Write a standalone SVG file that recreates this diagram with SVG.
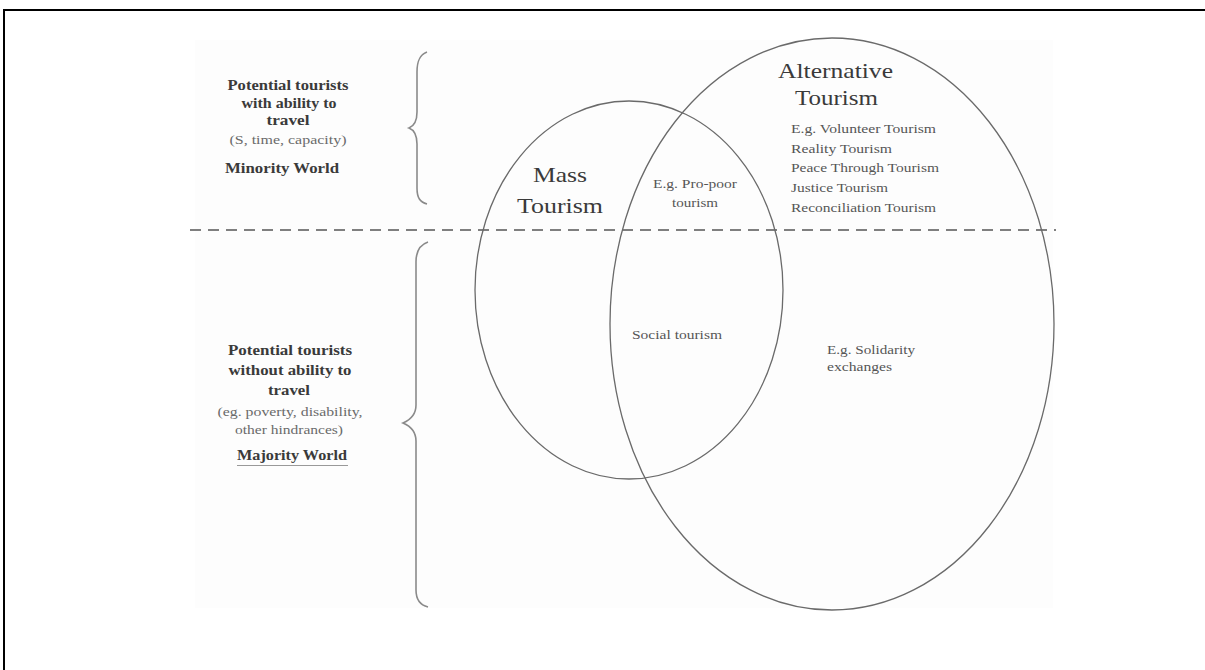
<svg xmlns="http://www.w3.org/2000/svg" width="1205" height="670" viewBox="0 0 1205 670">
  <style>
    .frame { fill: none; stroke: #000; stroke-width: 2; }
    .ring { fill: none; stroke: #6a6a6a; stroke-width: 1.3; }
    .brace { fill: none; stroke: #8a8a8a; stroke-width: 1.6; }
    .divider { fill: none; stroke: #555; stroke-width: 1.6; stroke-dasharray: 11 7; }
    text { font-family: "Liberation Serif", "Times New Roman", serif; }
    .lbl { font-size: 15px; font-weight: bold; fill: #3a3a3a; text-anchor: middle; }
    .note { font-size: 13px; fill: #6a6a6a; text-anchor: middle; }
    .title { font-size: 22px; fill: #3a3a3a; }
    .item { font-size: 13px; fill: #555; }
  </style>

  <rect x="0" y="0" width="1205" height="670" fill="#fff"/>
  <!-- outer frame: top and left rules -->
  <path class="frame" d="M4,671 L4,10 L1206,10"/>
  <!-- faint panel -->
  <rect x="195" y="40" width="858" height="568" fill="#fdfdfd"/>

  <g id="connectors">
    <!-- divider between minority and majority world -->
    <line class="divider" x1="190" y1="230" x2="1056" y2="230"/>
    <!-- braces -->
    <path class="brace" d="M427,52 C419,55 417,62 417,72 L417,112 C417,122 414,126 409,128 C414,130 417,134 417,144 L417,188 C417,198 420,202 427,204"/>
    <path class="brace" d="M428,242 C419,245 416,252 416,262 L416,405 C416,415 410,420 403,423 C410,426 416,431 416,441 L416,590 C416,600 420,605 428,607"/>
  </g>

  <g id="minority-world" font-family="Liberation Serif, serif">
    <text class="lbl" x="288" y="90" textLength="121" lengthAdjust="spacingAndGlyphs">Potential tourists</text>
    <text class="lbl" x="289" y="108" textLength="95" lengthAdjust="spacingAndGlyphs">with ability to</text>
    <text class="lbl" x="288" y="125" textLength="43" lengthAdjust="spacingAndGlyphs">travel</text>
    <text class="note" x="288" y="144" textLength="117" lengthAdjust="spacingAndGlyphs">(S, time, capacity)</text>
    <text class="lbl" x="282" y="173" textLength="114" lengthAdjust="spacingAndGlyphs">Minority World</text>
  </g>

  <g id="majority-world" font-family="Liberation Serif, serif">
    <text class="lbl" x="290" y="355" textLength="124" lengthAdjust="spacingAndGlyphs">Potential tourists</text>
    <text class="lbl" x="290" y="375" textLength="123" lengthAdjust="spacingAndGlyphs">without ability to</text>
    <text class="lbl" x="289" y="395" textLength="42" lengthAdjust="spacingAndGlyphs">travel</text>
    <text class="note" x="290" y="416" textLength="145" lengthAdjust="spacingAndGlyphs">(eg. poverty, disability,</text>
    <text class="note" x="289" y="434" textLength="108" lengthAdjust="spacingAndGlyphs">other hindrances)</text>
    <text class="lbl" x="292" y="460" textLength="110" lengthAdjust="spacingAndGlyphs">Majority World</text>
    <line x1="237" y1="465.5" x2="348" y2="465.5" stroke="#999" stroke-width="1.2"/>
  </g>

  <g id="mass-tourism" font-family="Liberation Serif, serif">
    <ellipse class="ring" cx="629" cy="290" rx="154" ry="189"/>
    <text class="title" x="533" y="182" textLength="54" lengthAdjust="spacingAndGlyphs">Mass</text>
    <text class="title" x="517" y="213" textLength="86" lengthAdjust="spacingAndGlyphs">Tourism</text>
  </g>

  <g id="alternative-tourism" font-family="Liberation Serif, serif">
    <ellipse class="ring" cx="832" cy="324" rx="222" ry="286"/>
    <text class="title" x="778" y="78" font-size="24" textLength="115" lengthAdjust="spacingAndGlyphs">Alternative</text>
    <text class="title" x="795" y="105" font-size="24" textLength="83" lengthAdjust="spacingAndGlyphs">Tourism</text>
    <text class="item" x="791" y="133" textLength="145" lengthAdjust="spacingAndGlyphs">E.g. Volunteer Tourism</text>
    <text class="item" x="791" y="153" textLength="101" lengthAdjust="spacingAndGlyphs">Reality Tourism</text>
    <text class="item" x="791" y="172" textLength="148" lengthAdjust="spacingAndGlyphs">Peace Through Tourism</text>
    <text class="item" x="791" y="192" textLength="97" lengthAdjust="spacingAndGlyphs">Justice Tourism</text>
    <text class="item" x="791" y="212" textLength="145" lengthAdjust="spacingAndGlyphs">Reconciliation Tourism</text>
    <text class="item" x="827" y="354" textLength="88" lengthAdjust="spacingAndGlyphs">E.g. Solidarity</text>
    <text class="item" x="827" y="371" textLength="65" lengthAdjust="spacingAndGlyphs">exchanges</text>
  </g>

  <g id="overlap" font-family="Liberation Serif, serif">
    <text class="item" x="653" y="188" textLength="84" lengthAdjust="spacingAndGlyphs">E.g. Pro-poor</text>
    <text class="item" x="672" y="207" textLength="46" lengthAdjust="spacingAndGlyphs">tourism</text>
    <text class="item" x="632" y="339" textLength="90" lengthAdjust="spacingAndGlyphs">Social tourism</text>
  </g>
</svg>
